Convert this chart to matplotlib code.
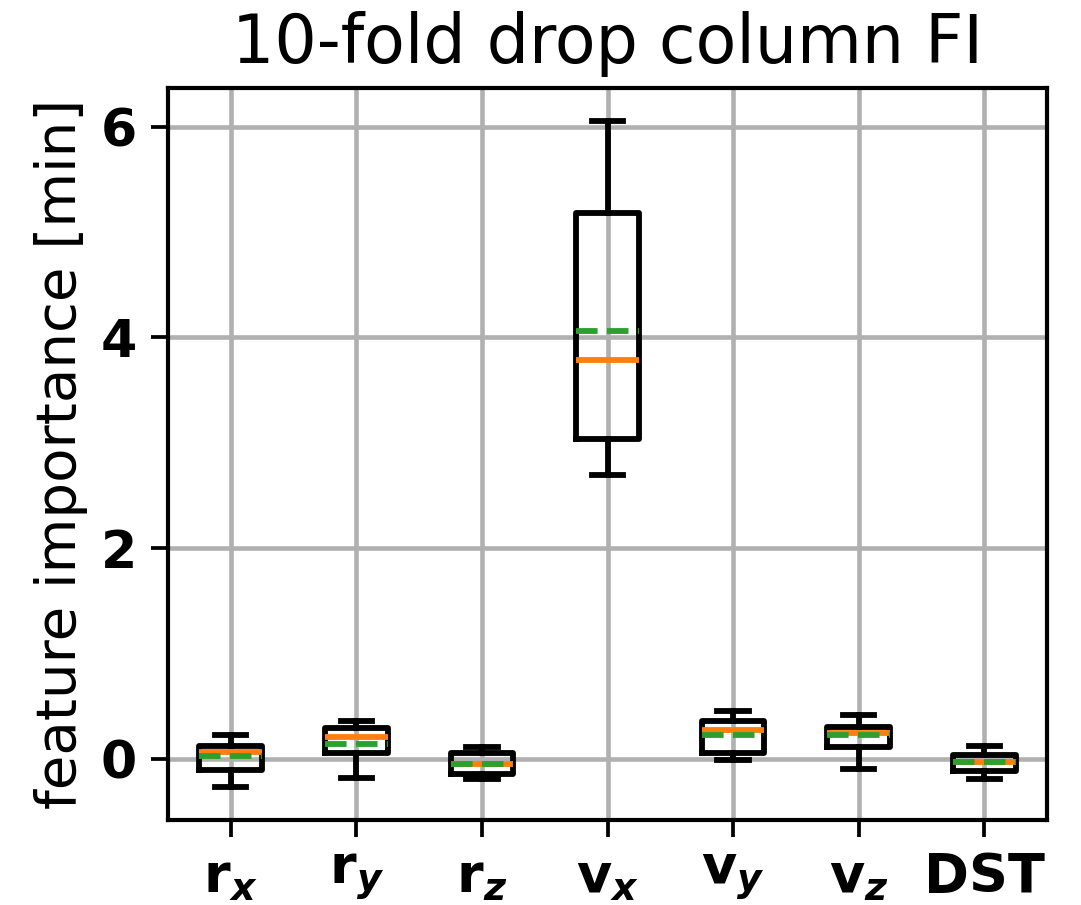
import matplotlib
matplotlib.use('Agg')
import matplotlib.pyplot as plt

# nombres de las variables y estadisticas
labels = ['r$_x$', 'r$_y$', 'r$_z$', 'v$_x$', 'v$_y$', 'v$_z$', 'DST']
whislo = [-0.26, -0.18, -0.19, 2.70, -0.01, -0.09, -0.19]
q1 = [-0.10, 0.06, -0.14, 3.04, 0.06, 0.12, -0.11]
med = [0.07, 0.21, -0.04, 3.79, 0.28, 0.25, -0.03]
mean = [0.03, 0.15, -0.04, 4.06, 0.23, 0.23, -0.03]
q3 = [0.13, 0.30, 0.06, 5.18, 0.36, 0.31, 0.04]
whishi = [0.23, 0.36, 0.12, 6.05, 0.46, 0.42, 0.13]

plt.rcParams['mathtext.fontset'] = 'custom'
plt.rcParams['mathtext.it'] = 'DejaVu Sans:italic:bold'
plt.rcParams['mathtext.rm'] = 'DejaVu Sans:bold'

stats = []
for i in range(len(labels)):
    stats.append(dict(label=labels[i], whislo=whislo[i], q1=q1[i], med=med[i],
                      mean=mean[i], q3=q3[i], whishi=whishi[i], fliers=[]))

fig = plt.figure(figsize=(1081/300, 905/300), dpi=300)
ax = fig.add_axes([0.1554, 0.0939, 0.8132, 0.8089])

lw = 1.4
ax.bxp(stats, showmeans=True, meanline=True,
       boxprops=dict(linewidth=lw),
       whiskerprops=dict(linewidth=lw),
       capprops=dict(linewidth=lw),
       medianprops=dict(linewidth=lw, color='C1'),
       meanprops=dict(linewidth=lw, color='C2', linestyle='--'))

ax.grid(True, color='#b0b0b0', linewidth=1.1)
ax.set_axisbelow(True)
for s in ax.spines.values():
    s.set_linewidth(1.0)
ax.tick_params(width=0.9, length=4)
ax.set_yticks([0, 2, 4, 6])
for t in ax.get_yticklabels():
    t.set_fontweight('bold')
    t.set_fontsize(12.5)
for t in ax.get_xticklabels():
    t.set_fontweight('bold')
    t.set_fontsize(13)
ax.set_ylabel('feature importance [min]', fontsize=13.5, labelpad=3)
ax.set_title('10-fold drop column FI', fontsize=16)

fig.savefig('out.png', dpi=300)
